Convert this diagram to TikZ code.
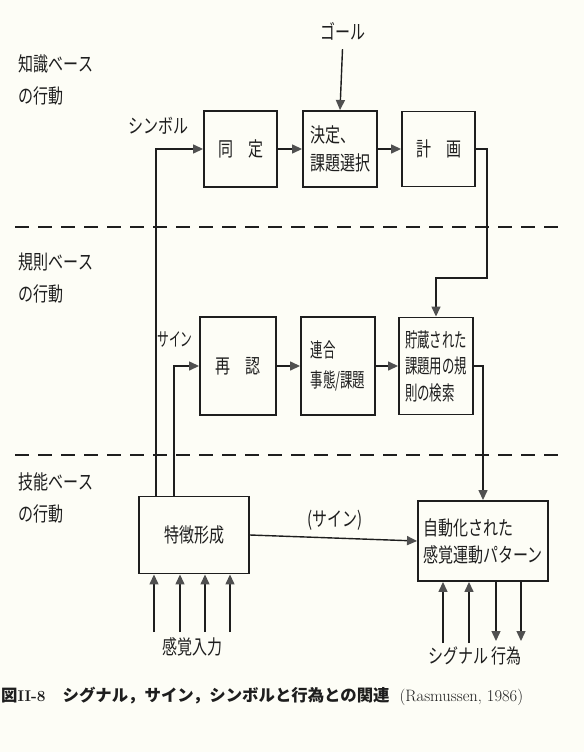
\documentclass[tikz,border=0pt]{standalone}
\usepackage{fontspec}
\usetikzlibrary{arrows.meta,calc}
\newfontfamily\jp[FakeStretch=0.75]{Noto Sans CJK JP}
\newfontfamily\jpc[FakeStretch=0.62]{Noto Sans CJK JP}
\newfontfamily\jpb{Noto Sans CJK JP}
\definecolor{paper}{RGB}{253,253,246}
\definecolor{ink}{RGB}{30,30,30}
\definecolor{tipc}{RGB}{80,80,80}
\tikzset{
  box/.style={draw=ink, line width=1.9pt, inner sep=0pt, align=left, text=ink,
    font=\jp\fontsize{20}{28}\selectfont},
  lbl/.style={inner sep=0pt, align=left, text=ink, font=\jp\fontsize{20}{32}\selectfont},
  conn/.style={draw=ink, line width=1.4pt},
  arr/.style={conn, -{Triangle[length=10pt,width=9pt,color=tipc]}},
  sep/.style={draw=ink, line width=2.4pt, dash pattern=on 14pt off 9pt}
}
\begin{document}
\begin{tikzpicture}[x=1pt,y=-1pt]
\fill[paper] (0,0) rectangle (584,752);
\useasboundingbox (0,0) rectangle (584,752);

% level labels
\node[lbl] (kb) at (56,80) {知識ベース\\の行動};
\node[lbl] (rb) at (56,278) {規則ベース\\の行動};
\node[lbl] (sb) at (56,498) {技能ベース\\の行動};

% dashed separators
\coordinate (d1a) at (15,227);
\coordinate (d1b) at (565,227);
\coordinate (d2a) at (15,455);
\coordinate (d2b) at (565,455);
\draw[sep] (d1a) -- (d1b);
\draw[sep] (d2a) -- (d2b);

% boxes
\node[box, minimum width=73pt, minimum height=76pt] (dotei) at (240.5,149) {同　定};
\node[box, minimum width=74pt, minimum height=76pt] (kettei) at (340,149) {決定、\\課題選択};
\node[box, minimum width=73pt, minimum height=75pt] (keikaku) at (438.5,149) {計　画};
\node[box, minimum width=76pt, minimum height=98pt] (sainin) at (238,366) {再　認};
\node[box, minimum width=74pt, minimum height=98pt, font=\jpc\fontsize{20}{30}\selectfont] (rengo) at (338,366) {連合\\事態/課題};
\node[box, minimum width=74pt, minimum height=97pt, font=\jpc\fontsize{20}{26.5}\selectfont] (chozo) at (436,366) {貯蔵された\\課題用の規\\則の検索};
\node[box, minimum width=110pt, minimum height=77pt] (tokucho) at (194,535) {特徴形成};
\node[box, minimum width=130pt, minimum height=80pt, font=\jp\fontsize{20}{27}\selectfont] (jido) at (483,541) {自動化された\\感覚運動パターン};

% labels
\node[lbl] (goal) at (342.5,31) {ゴール};
\node[lbl] (symbol) at (158.5,125.5) {シンボル};
\node[lbl, font=\jpc\fontsize{19}{20}\selectfont] (sign) at (175,339) {サイン};
\node[lbl] (sign2) at (335,520) {(サイン)};
\node[lbl] (sense) at (192.5,647) {感覚入力};
\node[lbl] (sigact) at (475,656) {シグナル 行為};

% top row
\draw[arr] ([yshift=-9pt]goal.south) -- (kettei.north);
\draw[arr] (dotei.east) -- (kettei.west);
\draw[arr] (kettei.east) -- (keikaku.west);
\coordinate (k1) at (487,278);
\draw[arr] (keikaku.east) -| (k1) -| (chozo.north);

% middle row
\draw[arr] (sainin.east) -- (rengo.west);
\draw[arr] (rengo.east) -- (chozo.west);
\draw[arr] (chozo.east) -| (jido.north);

% symbol and sign paths
\coordinate (symb) at ($(tokucho.north west)+(18,0)$);
\coordinate (signb) at ($(tokucho.north west)+(36,0)$);
\draw[arr] (symb) |- (dotei.west);
\draw[arr] (signb) |- (sainin.west);

% (sign)
\draw[arr] (tokucho.east) -- (jido.west);

% sensory inputs
\foreach \xx [count=\i] in {154,180,205,230} {
  \coordinate (in\i) at (\xx,632);
  \draw[arr] (in\i) -- (in\i |- tokucho.south);
}
% signals and actions
\coordinate (sg1) at (443,643);
\coordinate (sg2) at (469,643);
\coordinate (ac1) at (496,641);
\coordinate (ac2) at (521,641);
\draw[arr] (sg1) -- (sg1 |- jido.south);
\draw[arr] (sg2) -- (sg2 |- jido.south);
\draw[arr] (ac1 |- jido.south) -- (ac1);
\draw[arr] (ac2 |- jido.south) -- (ac2);

% caption
\node[anchor=west, inner sep=0pt, text=ink] (cap) at (1,696)
 {{\jpb\bfseries\fontsize{16.4}{18}\selectfont 図}{\bfseries\fontsize{15.5}{18}\selectfont II-8}\hspace{17pt}{\jpb\bfseries\fontsize{16.4}{18}\selectfont シグナル，サイン，シンボルと行為との関連}\hspace{10pt}{\fontsize{16.5}{18}\selectfont (Rasmussen, 1986)}};
\end{tikzpicture}
\end{document}
